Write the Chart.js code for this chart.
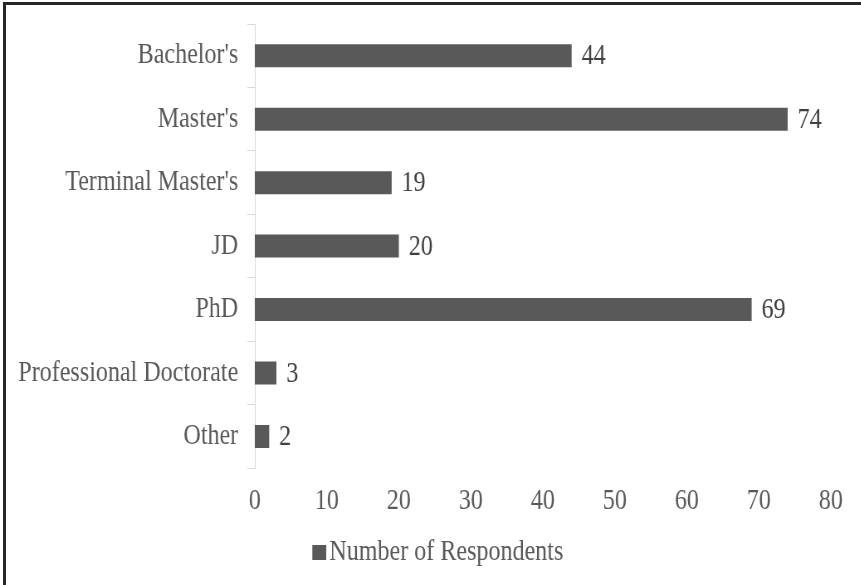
<!DOCTYPE html>
<html>
<head>
<meta charset="utf-8">
<script src="https://cdn.jsdelivr.net/npm/chart.js@4/dist/chart.umd.min.js"></script>
<style>
  html, body { margin: 0; padding: 0; background: #ffffff; overflow: hidden; }
  body { width: 861px; height: 585px; position: relative; }
  #frame {
    position: absolute; left: 3px; top: 2px; width: 900px; height: 700px;
    border-top: 3px solid #262626; border-left: 3px solid #262626;
    pointer-events: none;
  }
  #wrap {
    position: absolute; left: 0; top: 0; width: 1038px; height: 585px;
    transform: scaleX(0.83); transform-origin: 0 0;
  }
</style>
</head>
<body>
<div id="wrap"><canvas id="chart" width="1038" height="585"></canvas></div>
<div id="frame"></div>
<script>
// Highest degree earned by respondents
const degrees = ["Bachelor's", "Master's", "Terminal Master's", "JD", "PhD", "Professional Doctorate", "Other"];
const respondents = [44, 74, 19, 20, 69, 3, 2];
const seriesName = "Number of Respondents";
const xTicks = [0, 10, 20, 30, 40, 50, 60, 70, 80];

const textGray = '#595959';
const barGray = '#595959';
const lineGray = '#d9d9d9';

Chart.defaults.font.family = "'Liberation Serif', 'Times New Roman', serif";
Chart.defaults.font.size = 29;
Chart.defaults.color = textGray;

// Legend swatch: a small square sitting close to the label text
const swatch = document.createElement('canvas');
swatch.width = 38;
swatch.height = 15;
(function () {
  const c = swatch.getContext('2d');
  c.fillStyle = barGray;
  c.fillRect(21, 0, 17, 15);
})();

// Value written just past the end of each bar
const valueLabels = {
  id: 'valueLabels',
  afterDatasetsDraw(chart) {
    const ctx = chart.ctx;
    ctx.save();
    ctx.font = "29px 'Liberation Serif', 'Times New Roman', serif";
    ctx.fillStyle = '#404040';
    ctx.textAlign = 'left';
    ctx.textBaseline = 'middle';
    chart.getDatasetMeta(0).data.forEach((bar, i) => {
      ctx.fillText(String(chart.data.datasets[0].data[i]), bar.x + 12, bar.y + 1);
    });
    ctx.restore();
  }
};

// Nudge the legend a little right of the canvas centre
const legendShift = {
  id: 'legendShift',
  afterLayout(chart) {
    const lg = chart.legend;
    if (lg) { lg.left += 22; lg.right += 22; }
  }
};

new Chart(document.getElementById('chart'), {
  type: 'bar',
  data: {
    labels: degrees,
    datasets: [{
      label: seriesName,
      data: respondents,
      backgroundColor: barGray,
      borderWidth: 0,
      barPercentage: 0.9,
      categoryPercentage: 0.403
    }]
  },
  options: {
    indexAxis: 'y',
    responsive: false,
    animation: false,
    devicePixelRatio: 1,
    layout: { padding: { top: 24, right: 37, bottom: 8, left: 0 } },
    scales: {
      y: {
        afterFit(scale) { scale.width = 307; },
        grid: {
          display: true,
          drawOnChartArea: false,
          drawTicks: true,
          tickLength: 9,
          color: lineGray,
          lineWidth: 1
        },
        border: { display: true, color: lineGray, width: 1 },
        ticks: { padding: 11, color: textGray, font: { size: 29, lineHeight: 0.8 } }
      },
      x: {
        min: 0,
        max: 80,
        afterBuildTicks(scale) { scale.ticks = xTicks.map(v => ({ value: v })); },
        grid: { display: false, drawTicks: false },
        border: { display: false },
        ticks: { padding: 16, color: textGray, font: { size: 29 } }
      }
    },
    plugins: {
      legend: {
        position: 'bottom',
        labels: {
          usePointStyle: true,
          pointStyle: swatch,
          boxWidth: 16,
          boxHeight: 17,
          padding: 3,
          color: textGray,
          font: { size: 29 }
        }
      },
      tooltip: { enabled: false }
    }
  },
  plugins: [valueLabels, legendShift]
});
</script>
</body>
</html>
